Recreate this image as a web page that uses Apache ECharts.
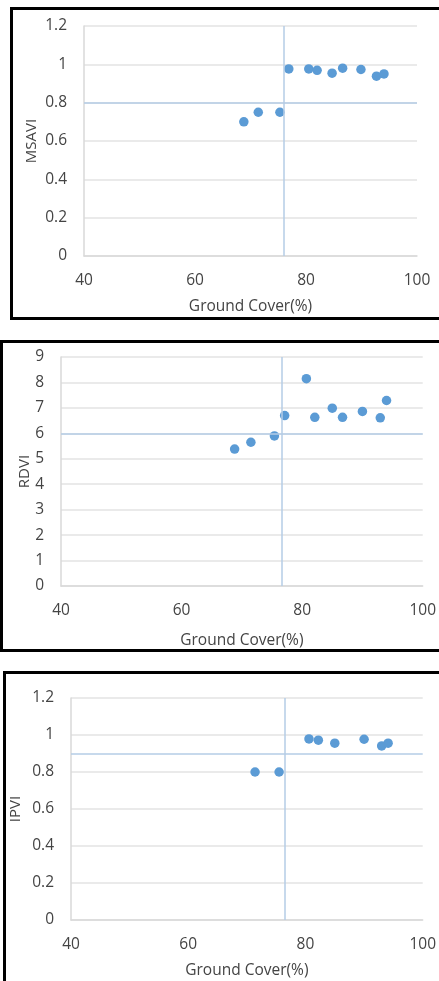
<!DOCTYPE html>
<html>
<head>
<meta charset="utf-8">
<title>Ground cover vs vegetation indices</title>
<script src="https://cdn.jsdelivr.net/npm/echarts@6/dist/echarts.min.js"></script>
<style>
  html, body { margin: 0; padding: 0; background: #fff; overflow: hidden; }
  #wrap { position: relative; width: 439px; height: 981px; overflow: hidden; }
  .box { position: absolute; border: 3px solid #000; box-sizing: border-box; }
  #chart { position: absolute; left: 0; top: 0; width: 439px; height: 981px; }
</style>
</head>
<body>
<div id="wrap">
  <div class="box" style="left:10px;top:7px;width:460px;height:313px;"></div>
  <div class="box" style="left:0px;top:340px;width:470px;height:312px;"></div>
  <div class="box" style="left:3px;top:671px;width:470px;height:340px;"></div>
  <div id="chart"></div>
</div>
<script>
  // values
  var msaviX = [68.8, 71.4, 75.3, 76.9, 80.5, 82.0, 84.7, 86.6, 89.9, 92.7, 94.05];
  var msaviY = [0.70, 0.75, 0.75, 0.976, 0.976, 0.969, 0.954, 0.98, 0.973, 0.938, 0.95];

  var rdviX = [68.8, 71.5, 75.4, 77.1, 80.7, 82.1, 85.0, 86.7, 90.0, 92.96, 94.0];
  var rdviY = [5.38, 5.65, 5.90, 6.70, 8.15, 6.63, 6.99, 6.63, 6.86, 6.61, 7.29];

  var ipviX = [71.4, 75.5, 80.6, 82.2, 85.0, 90.0, 93.0, 94.1];
  var ipviY = [0.80, 0.80, 0.979, 0.972, 0.956, 0.977, 0.941, 0.956];

  var indexNames = ['MSAVI', 'RDVI', 'IPVI'];
  var refX = [76.0, 76.6, 76.4];
  var refY = [0.8, 6, 0.9];
  var yMax = [1.2, 9, 1.2];
  var yStep = [0.2, 1, 0.2];
  var xTicks = [40, 60, 80, 100];
  var xName = 'Ground Cover(%)';

  var pairs = [[msaviX, msaviY], [rdviX, rdviY], [ipviX, ipviY]];

  var grids = [
    { left: 84, right: 22, top: 26, height: 230 },
    { left: 61, right: 13, top: 357, height: 229 },
    { left: 71, right: 15, top: 698, height: 222 }
  ];
  var yNameGap = [45, 29, 48];
  var xNameGap = [43, 47, 43];

  var font = '"Open Sans", sans-serif';
  var txt = '#444444';

  var xAxes = [], yAxes = [], series = [];
  for (var i = 0; i < 3; i++) {
    xAxes.push({
      type: 'value', gridIndex: i, min: xTicks[0], max: xTicks[xTicks.length - 1], interval: 20,
      name: xName, nameLocation: 'middle', nameGap: xNameGap[i], nameMoveOverlap: false,
      nameTextStyle: { color: txt, fontSize: 15.5, fontFamily: font },
      axisLine: { show: true, lineStyle: { color: '#d9d9d9', width: 1.5 } },
      axisTick: { show: false },
      axisLabel: { color: txt, fontSize: 15.5, fontFamily: font, margin: 17 },
      splitLine: { show: false }
    });
    yAxes.push({
      type: 'value', gridIndex: i, min: 0, max: yMax[i], interval: yStep[i],
      name: indexNames[i], nameLocation: 'middle', nameGap: yNameGap[i], nameMoveOverlap: false,
      nameTextStyle: { color: txt, fontSize: 15, fontFamily: font },
      axisLine: { show: true, lineStyle: { color: '#d9d9d9', width: 1.5 } },
      axisTick: { show: false },
      axisLabel: { color: txt, fontSize: 15.5, fontFamily: font, margin: 17 },
      splitLine: { show: true, lineStyle: { color: '#e3e3e3', width: 1.5 } }
    });
    var pts = pairs[i][0].map(function (x, k) { return [x, pairs[i][1][k]]; });
    series.push({
      type: 'scatter', xAxisIndex: i, yAxisIndex: i, data: pts,
      symbolSize: 9.5,
      itemStyle: { color: '#5b9bd5', opacity: 1 },
      markLine: {
        silent: true, symbol: 'none', animation: false,
        label: { show: false },
        lineStyle: { color: '#b4cce6', width: 1.5, type: 'solid' },
        data: [{ xAxis: refX[i] }, { yAxis: refY[i] }]
      },
      z: 3
    });
  }

  var chart = echarts.init(document.getElementById('chart'));
  chart.setOption({
    animation: false,
    grid: grids,
    xAxis: xAxes,
    yAxis: yAxes,
    series: series
  });
</script>
</body>
</html>
